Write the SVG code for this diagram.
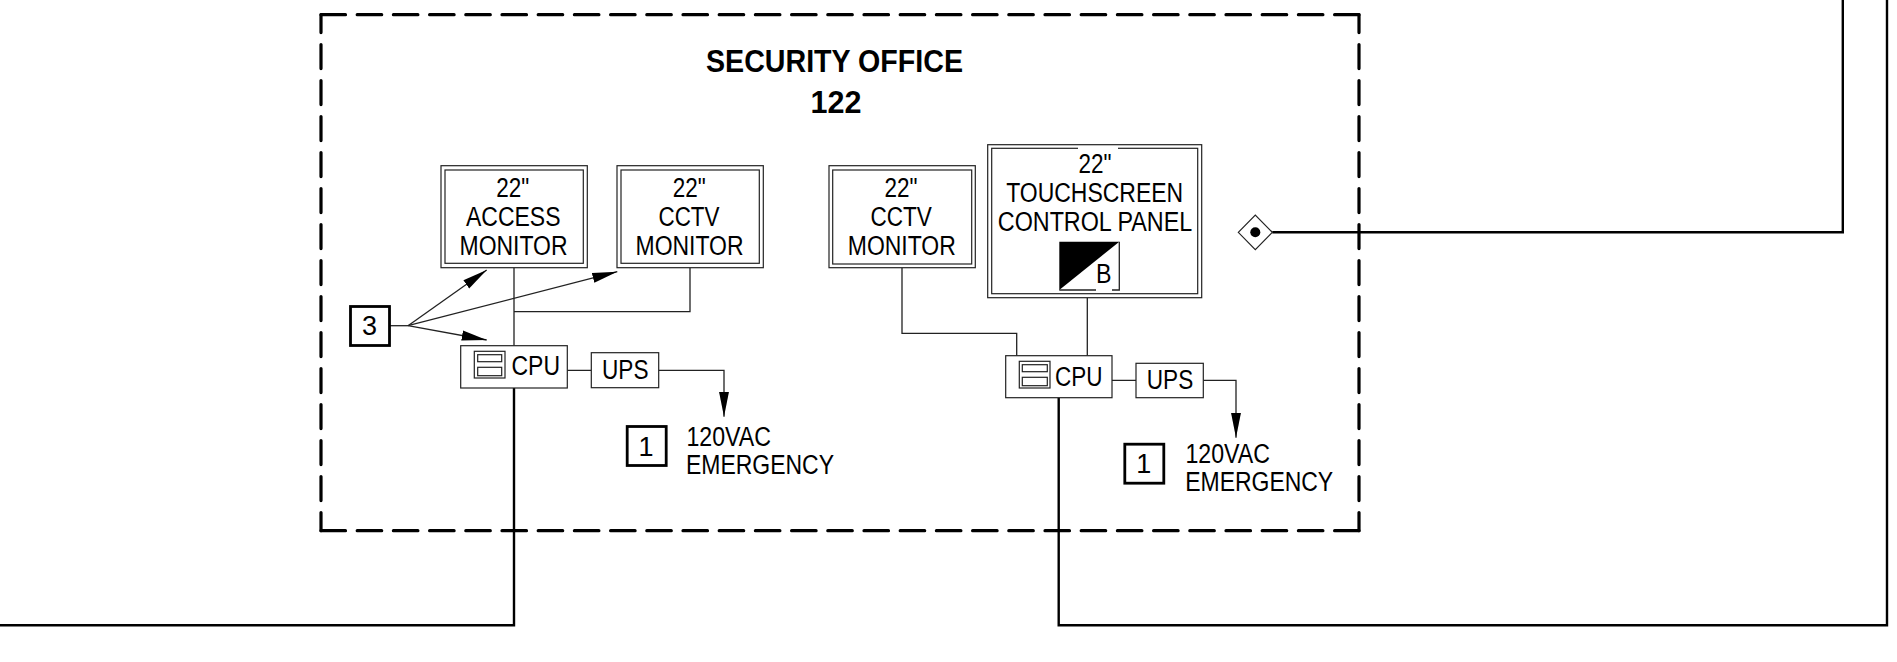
<svg xmlns="http://www.w3.org/2000/svg" width="1897" height="662" viewBox="0 0 1897 662">
<style>
text{font-family:"Liberation Sans",Arial,sans-serif;font-size:27px;fill:#000}
.title{font-weight:bold;font-size:31px}
.b{fill:#fff;stroke:#222;stroke-width:1.2}
.d{fill:none;stroke:#222;stroke-width:1.3}
.t{fill:none;stroke:#000;stroke-width:2.4}
.k{fill:#fff;stroke:#000;stroke-width:2.8}
.h{fill:none;stroke:#000;stroke-width:3.2;stroke-dasharray:24.5 11.7;stroke-linecap:round}
.v{fill:none;stroke:#000;stroke-width:3.2;stroke-dasharray:24 12;stroke-dashoffset:6.1;stroke-linecap:round}
</style>
<defs>
<marker id="arrow" markerUnits="userSpaceOnUse" markerWidth="26" markerHeight="12" refX="25" refY="6" orient="auto"><path d="M0,1 L25,6 L0,11 Z" fill="#000"/></marker>
</defs>
<rect width="1897" height="662" fill="#fff"/>
<g id="security-office">
<path class="h" d="M321 14.7H1359"/>
<path class="h" d="M321 530.7H1359"/>
<path class="v" d="M321 14.7V530.7"/>
<path class="v" d="M1359 14.7V530.7"/>
</g>
<g id="title">
<text class="title" x="706" y="71.7" textLength="257" lengthAdjust="spacingAndGlyphs">SECURITY OFFICE</text>
<text class="title" x="810.5" y="113" textLength="51" lengthAdjust="spacingAndGlyphs">122</text>
</g>
<g id="connectors">
<path class="d" d="M514 267.7V345.7M690 267.7V311.7H514"/>
<path class="d" d="M567.3 370.3H591.3M658.7 370.3H724V416.7" marker-end="url(#arrow)"/>
<path class="d" d="M902 267.7V333.3H1016.7V355.7M1087.3 297.7V355.7"/>
<path class="d" d="M1112 380.3H1136M1203.3 380.3H1236V437.7" marker-end="url(#arrow)"/>
<path class="d" d="M390 325.7H408"/>
<path class="d" d="M408 325.7L486.7 270" marker-end="url(#arrow)"/>
<path class="d" d="M408 325.7L617.3 271.7" marker-end="url(#arrow)"/>
<path class="d" d="M408 325.7L486.7 340" marker-end="url(#arrow)"/>
<path class="t" d="M514 388V625.3H0"/>
<path class="t" d="M1058.7 397.7V625.3H1887V0"/>
<path class="t" d="M1272.3 232.3H1842.8V0"/>
</g>
<g id="access-monitor">
<rect class="b" x="441" y="165.7" width="146.3" height="102"/><rect class="b" x="445" y="170" width="138.3" height="93.3"/>
<text x="496.2" y="196.7" textLength="33" lengthAdjust="spacingAndGlyphs">22"</text>
<text x="466" y="225.7" textLength="94.5" lengthAdjust="spacingAndGlyphs">ACCESS</text>
<text x="459.5" y="255" textLength="108" lengthAdjust="spacingAndGlyphs">MONITOR</text>
</g>
<g id="cctv-monitor-1">
<rect class="b" x="617" y="165.7" width="146.3" height="102"/><rect class="b" x="621" y="170" width="138.3" height="93.3"/>
<text x="672.8" y="196.7" textLength="33" lengthAdjust="spacingAndGlyphs">22"</text>
<text x="658.5" y="225.7" textLength="61" lengthAdjust="spacingAndGlyphs">CCTV</text>
<text x="635.5" y="255" textLength="108" lengthAdjust="spacingAndGlyphs">MONITOR</text>
</g>
<g id="cctv-monitor-2">
<rect class="b" x="829" y="165.7" width="146.3" height="102"/><rect class="b" x="832.7" y="170" width="139" height="94"/>
<text x="884.5" y="197.3" textLength="33" lengthAdjust="spacingAndGlyphs">22"</text>
<text x="870.5" y="226" textLength="61.4" lengthAdjust="spacingAndGlyphs">CCTV</text>
<text x="847.8" y="255" textLength="108" lengthAdjust="spacingAndGlyphs">MONITOR</text>
</g>
<g id="touchscreen-panel">
<rect class="b" x="987.7" y="144.7" width="214" height="153"/><rect class="b" x="991.7" y="148.3" width="206" height="145.4"/>
<rect x="1078" y="146" width="40" height="4" fill="#fff"/>
<text x="1078.5" y="172.7" textLength="33" lengthAdjust="spacingAndGlyphs">22"</text>
<text x="1006.2" y="201.7" textLength="177" lengthAdjust="spacingAndGlyphs">TOUCHSCREEN</text>
<text x="997.8" y="231" textLength="194.4" lengthAdjust="spacingAndGlyphs">CONTROL PANEL</text>
<path d="M1059.3 241.7H1119.3L1059.3 290Z" fill="#000"/>
<path class="d" d="M1119.3 241.7V290H1112M1096 290H1059.3"/>
<text x="1096" y="283.3" textLength="15.5" lengthAdjust="spacingAndGlyphs">B</text>
</g>
<g id="cpu-1">
<rect class="b" x="460.7" y="345.7" width="106.6" height="42.3"/>
<rect class="b" x="474.3" y="351.3" width="30.7" height="26.7"/><rect class="b" x="477.7" y="354.7" width="24" height="7"/><rect class="b" x="477.7" y="367.3" width="24" height="8.4"/>
<text x="511.5" y="375" textLength="48.5" lengthAdjust="spacingAndGlyphs">CPU</text>
</g>
<g id="ups-1">
<rect class="b" x="591.3" y="352.7" width="67.4" height="35"/>
<text x="602" y="379.3" textLength="46.5" lengthAdjust="spacingAndGlyphs">UPS</text>
</g>
<g id="cpu-2">
<rect class="b" x="1005.7" y="355.7" width="106.3" height="42"/>
<rect class="b" x="1019.3" y="361.3" width="30.7" height="26.7"/><rect class="b" x="1022.3" y="364.7" width="25" height="7"/><rect class="b" x="1022.3" y="377.3" width="25" height="8.4"/>
<text x="1055" y="385.7" textLength="47.5" lengthAdjust="spacingAndGlyphs">CPU</text>
</g>
<g id="ups-2">
<rect class="b" x="1136" y="363.3" width="67.3" height="34.4"/>
<text x="1146.8" y="389.3" textLength="46.4" lengthAdjust="spacingAndGlyphs">UPS</text>
</g>
<g id="note-3">
<rect class="k" x="350.5" y="306.5" width="39" height="39"/>
<text x="369.5" y="335" text-anchor="middle">3</text>
</g>
<g id="note-1a">
<rect class="k" x="627.2" y="426.5" width="39" height="39"/>
<text x="646" y="456" text-anchor="middle">1</text>
</g>
<g id="power-1">
<text x="686.5" y="446" textLength="84.5" lengthAdjust="spacingAndGlyphs">120VAC</text>
<text x="686" y="474.3" textLength="148" lengthAdjust="spacingAndGlyphs">EMERGENCY</text>
</g>
<g id="note-1b">
<rect class="k" x="1124.8" y="444.2" width="39" height="39"/>
<text x="1143.7" y="473.3" text-anchor="middle">1</text>
</g>
<g id="power-2">
<text x="1185.5" y="463.3" textLength="84.5" lengthAdjust="spacingAndGlyphs">120VAC</text>
<text x="1185.2" y="491" textLength="148" lengthAdjust="spacingAndGlyphs">EMERGENCY</text>
</g>
<g id="junction">
<path class="b" d="M1238.3 232.3L1255.3 215L1272.3 232.3L1255.3 249.7Z"/>
<circle cx="1255.3" cy="232.3" r="5" fill="#000"/>
</g>
</svg>
